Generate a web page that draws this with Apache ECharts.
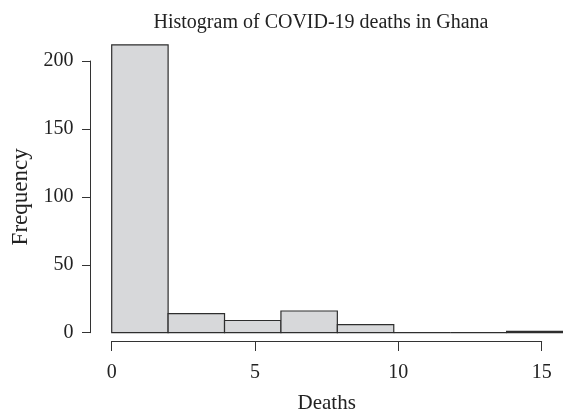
<!DOCTYPE html>
<html>
<head>
<meta charset="utf-8">
<script src="https://cdn.jsdelivr.net/npm/echarts@6/dist/echarts.min.js"></script>
<style>html,body{margin:0;padding:0;background:#fff;}#c{width:563px;height:415px;}</style>
</head>
<body>
<div id="c"></div>
<script>
const binStarts = [0, 2, 4, 6, 8, 10, 12, 14];
const binEnds = [2, 4, 6, 8, 10, 12, 14, 16];
const counts = [212, 14, 9, 16, 6, 0, 0, 1];
const yTicks = [0, 50, 100, 150, 200];
const xTicks = [0, 5, 10, 15];
const titleText = 'Histogram of COVID-19 deaths in Ghana';
const xLabel = 'Deaths';
const yLabel = 'Frequency';

const FONT = 'Liberation Serif';
const TXT = '#222';
const LINE = '#333';

const chart = echarts.init(document.getElementById('c'), null, {renderer: 'canvas'});
const data = binStarts.map((s, i) => [s, binEnds[i], counts[i]]);

chart.setOption({
  animation: false,
  backgroundColor: '#fff',
  title: {
    text: titleText,
    left: 316, top: 8, textAlign: 'center',
    textStyle: {fontFamily: FONT, fontWeight: 'normal', fontSize: 20, color: TXT}
  },
  grid: [
    {left: 111.7, top: 34, width: 458.7, height: 298.7},
    {left: 90, top: 61, width: 10, height: 271.7},
    {left: 111.7, top: 333, width: 430, height: 10.3}
  ],
  xAxis: [
    {gridIndex: 0, type: 'value', min: 0, max: 16, show: false},
    {gridIndex: 1, type: 'value', min: 0, max: 1, show: false},
    {gridIndex: 2, type: 'value', min: 0, max: 15, interval: 5,
      axisLine: {show: true, lineStyle: {color: LINE, width: 1}},
      axisTick: {show: true, length: 10, lineStyle: {color: LINE}},
      splitLine: {show: false},
      axisLabel: {fontFamily: FONT, fontSize: 20, color: TXT, margin: 22,
        formatter: v => xTicks.includes(v) ? String(v) : ''},
      name: xLabel, nameLocation: 'middle', nameGap: 52,
      nameTextStyle: {fontFamily: FONT, fontSize: 21, color: TXT}
    }
  ],
  yAxis: [
    {gridIndex: 0, type: 'value', min: 0, max: 220, show: false},
    {gridIndex: 1, type: 'value', min: 0, max: 200, interval: 50,
      axisLine: {show: true, lineStyle: {color: LINE, width: 1}},
      axisTick: {show: true, length: 8, lineStyle: {color: LINE}},
      splitLine: {show: false},
      axisLabel: {fontFamily: FONT, fontSize: 20, color: TXT, margin: 16.5,
        formatter: v => yTicks.includes(v) ? String(v) : ''},
      name: yLabel, nameLocation: 'middle', nameGap: 58,
      nameTextStyle: {fontFamily: FONT, fontSize: 23, color: TXT}
    },
    {gridIndex: 2, type: 'value', min: 0, max: 1, show: false}
  ],
  series: [{
    type: 'custom',
    xAxisIndex: 0, yAxisIndex: 0,
    data: data,
    clip: false,
    renderItem: function (params, api) {
      const p0 = api.coord([api.value(0), api.value(2)]);
      const p1 = api.coord([api.value(1), 0]);
      return {
        type: 'rect',
        shape: {x: p0[0], y: p0[1], width: p1[0] - p0[0], height: p1[1] - p0[1]},
        style: {fill: '#d7d8da', stroke: '#2e2e2e', lineWidth: 1.2}
      };
    }
  }]
});
</script>
</body>
</html>
